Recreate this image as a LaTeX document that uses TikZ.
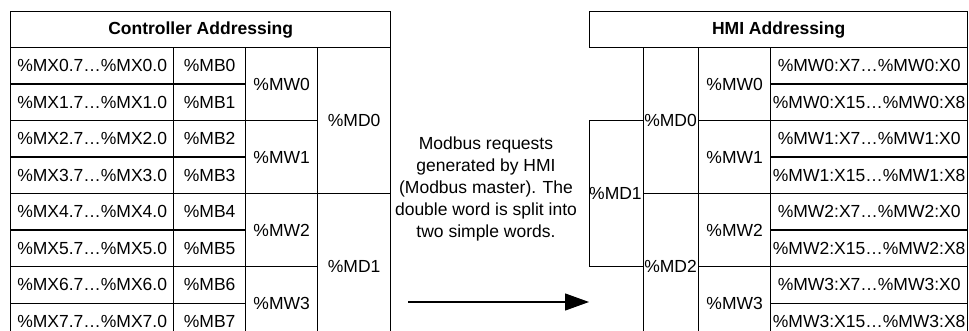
\documentclass[tikz,border=0pt]{standalone}
\usepackage{fontspec}
\setmainfont{Liberation Sans}
\usetikzlibrary{arrows.meta}
\tikzset{
  cell/.style={draw=black, line width=1.3pt, inner sep=0pt, anchor=north west,
    font=\fontsize{17.5}{21}\selectfont},
  titlecell/.style={cell, font=\fontsize{17.5}{21}\selectfont\bfseries},
  freelabel/.style={inner sep=0pt, font=\fontsize{17.5}{21}\selectfont},
}
\begin{document}
\begin{tikzpicture}[x=1pt, y=-1pt]
\useasboundingbox (0,0) rectangle (969,331);
\clip (0,0) rectangle (969,331);
% ---------------- Controller table ----------------
\node[titlecell, minimum width=380pt, minimum height=36pt] (ctitle) at (10,11) {Controller Addressing};
\foreach \i in {0,...,7} {
  \node[cell, minimum width=163pt, minimum height=36.5pt] (mx\i) at (10,{47+36.5*\i}) {\%MX\i.7…\%MX\i.0};
  \node[cell, minimum width=72pt, minimum height=36.5pt] (mb\i) at (173,{47+36.5*\i}) {\%MB\i};
}
\foreach \i in {0,...,3} {
  \node[cell, minimum width=72pt, minimum height=73pt] (mw\i) at (245,{47+73*\i}) {\%MW\i};
}
\foreach \i in {0,1} {
  \node[cell, minimum width=73pt, minimum height=146pt] (md\i) at (317,{47+146*\i}) {\%MD\i};
}
% ---------------- HMI table ----------------
\node[titlecell, minimum width=378pt, minimum height=36pt] (htitle) at (589,11) {HMI Addressing};
\node[cell, minimum width=54pt, minimum height=146pt] (hmd1box) at (589,120) {};
\node[freelabel, anchor=west] (hmd1) at (589,193) {\%MD1};
\node[cell, minimum width=55pt, minimum height=146pt] (hmd0box) at (643,47) {};
\node[cell, minimum width=55pt, minimum height=146pt] (hmd2box) at (643,193) {};
\node[freelabel] (hmd0) at (670.5,120) {\%MD0};
\node[freelabel] (hmd2) at (670.5,266) {\%MD2};
\foreach \i in {0,...,3} {
  \node[cell, minimum width=72pt, minimum height=73pt] (hmw\i) at (698,{47+73*\i}) {\%MW\i};
  \node[cell, minimum width=197pt, minimum height=36.5pt] (hxa\i) at (770,{47+73*\i}) {\%MW\i:X7…\%MW\i:X0};
  \node[cell, minimum width=197pt, minimum height=36.5pt] (hxb\i) at (770,{83.5+73*\i}) {\%MW\i:X15…\%MW\i:X8};
}
% ---------------- Note and arrow ----------------
\node[freelabel, align=center, font=\fontsize{17.5}{22}\selectfont] (note) at (486,189)
  {Modbus requests\\generated by HMI\\(Modbus master). The\\double word is split into\\two simple words.};
\coordinate (astart) at (408,302);
\coordinate (aend) at (589,302);
\draw[line width=1.3pt, -{Triangle[length=24pt,width=17pt]}] (astart) -- (aend);
\end{tikzpicture}
\end{document}
